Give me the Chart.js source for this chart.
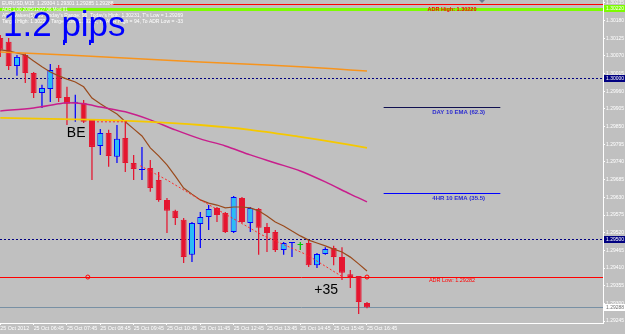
<!DOCTYPE html>
<html><head><meta charset="utf-8">
<script src="https://cdn.jsdelivr.net/npm/chart.js@4.4.1/dist/chart.umd.min.js"></script>
<style>html,body{margin:0;padding:0;background:#c0c0c0;overflow:hidden}canvas{display:block}</style>
</head><body><canvas id="c" width="625" height="334"></canvas>
<script>
// ---- data (EURUSD M15, 25 Oct 2012) ----
const opens  = [1.30126,1.30114,1.30039,1.30073,1.30017,1.29955,1.29967,1.30033,1.29942,1.29924,1.29924,1.29871,1.29790,1.29830,1.29756,1.29815,1.29737,1.29715,1.29721,1.29684,1.29622,1.29588,1.29560,1.29451,1.29547,1.29569,1.29597,1.29581,1.29522,1.29628,1.29550,1.29594,1.29538,1.29522,1.29466,1.29488,1.29482,1.29488,1.29419,1.29454,1.29472,1.29444,1.29391,1.29385,1.29301];
const highs  = [1.30135,1.30126,1.30073,1.30079,1.30020,1.29980,1.30045,1.30042,1.29974,1.29949,1.29933,1.29871,1.29843,1.29840,1.29855,1.29871,1.29762,1.29787,1.29746,1.29709,1.29628,1.29591,1.29566,1.29553,1.29584,1.29606,1.29600,1.29584,1.29634,1.29631,1.29600,1.29597,1.29550,1.29528,1.29491,1.29491,1.29491,1.29497,1.29457,1.29475,1.29479,1.29475,1.29404,1.29385,1.29304];
const lows   = [1.30067,1.30026,1.30008,1.29986,1.29939,1.29908,1.29927,1.29927,1.29855,1.29865,1.29861,1.29684,1.29762,1.29725,1.29737,1.29709,1.29684,1.29684,1.29647,1.29616,1.29519,1.29544,1.29426,1.29429,1.29472,1.29528,1.29553,1.29519,1.29519,1.29550,1.29522,1.29451,1.29460,1.29460,1.29451,1.29444,1.29466,1.29413,1.29410,1.29451,1.29419,1.29373,1.29348,1.29267,1.29285];
const closes = [1.30089,1.30039,1.30067,1.30017,1.29955,1.29970,1.30026,1.29939,1.29921,1.29924,1.29865,1.29787,1.29830,1.29759,1.29812,1.29737,1.29718,1.29715,1.29659,1.29622,1.29588,1.29566,1.29444,1.29550,1.29569,1.29594,1.29575,1.29522,1.29631,1.29553,1.29597,1.29535,1.29519,1.29466,1.29488,1.29488,1.29482,1.29419,1.29454,1.29469,1.29444,1.29395,1.29382,1.29304,1.29288];

const emaFast = [1.30089,1.30086,1.30079,1.30073,1.30054,1.30036,1.30020,1.30008,1.29998,1.29989,1.29974,1.29939,1.29921,1.29905,1.29889,1.29865,1.29843,1.29821,1.29784,1.29759,1.29731,1.29696,1.29659,1.29640,1.29622,1.29612,1.29606,1.29597,1.29600,1.29600,1.29597,1.29588,1.29572,1.29553,1.29541,1.29525,1.29510,1.29497,1.29488,1.29479,1.29469,1.29460,1.29444,1.29423,1.29401];
const orangeIdx = [0,8,16,24,32,40,44];
const orangeVal = [1.30082,1.30073,1.30062,1.30051,1.30042,1.30030,1.30023];
const goldIdx = [0,6,12,18,24,30,36,40,44];
const goldVal = [1.29877,1.29874,1.29871,1.29865,1.29855,1.29840,1.29818,1.29802,1.29784];
const magentaIdx = [0,4,7,8,10,12,15,18,21,24,27,30,33,36,39,42,44];
const magentaVal = [1.29899,1.29908,1.29921,1.29924,1.29921,1.29911,1.29896,1.29871,1.29840,1.29812,1.29790,1.29762,1.29737,1.29712,1.29678,1.29640,1.29616];
const trailIdx = [16.8,20,24,31.4,36.8,41.1];
const trailVal = [1.29728,1.29684,1.29622,1.29513,1.29451,1.29382];
const beIdx = [11.6,15.2];
const beVal = [1.29865,1.29865];

const timeTickIdx = [0,4,8,12,16,20,24,28,32,36,40,44];
const timeLabels = ["25 Oct 2012","25 Oct 06:45","25 Oct 07:45","25 Oct 08:45","25 Oct 09:45","25 Oct 10:45","25 Oct 11:45","25 Oct 12:45","25 Oct 13:45","25 Oct 14:45","25 Oct 15:45","25 Oct 16:45"];
const priceTicks = [1.29245,1.29300,1.29355,1.29410,1.29465,1.29520,1.29575,1.29630,1.29685,1.29740,1.29795,1.29850,1.29905,1.29960,1.30015,1.30070,1.30125,1.30180,1.30235];

const roundLevels = [1.30000,1.29500];
const redLevel = 1.29382;
const bidPrice = 1.29288;
const dayHigh = 1.30231;
const adrHigh = 1.30220;
const dayEma = 1.29911;
const h4Ema = 1.29643;
const adrLowText = "ADR Low: 1.29282";
const adrHighText = "ADR High: 1.30220";
const dayEmaText = "DAY 10 EMA (62.3)";
const h4EmaText = "4HR 10 EMA (35.5)";
const beMark = {idx: 9.1, price: 1.29830, text: "BE"};
const plusMark = {idx: 39.1, price: 1.29342, text: "+35"};
const headerLines = [
  "EURUSD,M15  1.29304 1.29301 1.29285 1.29288",
  "ADR 1.00 2005/12/27 06 Mod 01",
  "ADR Values(5): 95  Today's Range: 96  Today's High: 1.30231, T's Low = 1.29269",
  "Target High: 1.30220, Target Low: 1.29282, To ADR High = 94, To ADR Low = -33"
];
const pipsText = "1.2 pips";

// ---- styles ----
const RED = '#e5152f', CYAN = '#2bbcf5', BLUE = '#0000ff', GREEN = '#00cc00';
const n = opens.length;
const isDoji = i => opens[i] === closes[i];
const isBull = i => closes[i] > opens[i];
const specialDoji = 36;
const bodyFill = [], bodyBorder = [], wickCol = [];
for (let i = 0; i < n; i++) {
  let f, b;
  if (isDoji(i)) { f = b = (i === specialDoji ? GREEN : BLUE); }
  else if (isBull(i)) { f = CYAN; b = BLUE; }
  else { f = RED; b = RED; }
  bodyFill.push(f); bodyBorder.push(b); wickCol.push(b);
}
const xy = (idx, val) => idx.map((x, i) => ({x: x, y: val[i]}));
const allIdx = opens.map((_, i) => i);

const FONT = "'Liberation Sans', Arial, sans-serif";

function hline(g, xs, ys, price, i0, i1, color, w, dash) {
  const y = Math.round(ys.getPixelForValue(price)) + (w % 2 ? 0.5 : 0);
  g.save();
  g.strokeStyle = color; g.lineWidth = w; g.setLineDash(dash || []);
  g.beginPath(); g.moveTo(i0, y); g.lineTo(i1, y); g.stroke();
  g.restore();
  return y;
}
function txt(g, s, x, y, font, color, align) {
  g.save(); g.font = font; g.fillStyle = color; g.textAlign = align || 'left'; g.textBaseline = 'middle';
  g.fillText(s, x, y); g.restore();
}

const overlay = {
  id: 'mt4',
  beforeDraw(c) { const g = c.ctx; g.save(); g.fillStyle = '#c0c0c0'; g.fillRect(0, 0, c.width, c.height); g.restore(); },
  beforeDatasetsDraw(c) {
    const g = c.ctx, xs = c.scales.x, ys = c.scales.y, a = c.chartArea;
    g.save(); g.beginPath(); g.rect(a.left, a.top, a.right - a.left, a.bottom - a.top); g.clip();
    roundLevels.forEach(p => hline(g, xs, ys, p, a.left, a.right, '#000080', 1, [2, 2]));
    hline(g, xs, ys, bidPrice, a.left, a.right, '#7890a4', 1);
    hline(g, xs, ys, redLevel, a.left, a.right, '#ff0000', 1);
    hline(g, xs, ys, dayEma, xs.getPixelForValue(46), xs.getPixelForValue(60), '#101050', 1);
    hline(g, xs, ys, h4Ema, xs.getPixelForValue(46), xs.getPixelForValue(60), '#0000ff', 1);
    hline(g, xs, ys, dayHigh, xs.getPixelForValue(13.2), a.right, '#ff0000', 1);
    g.restore();
  },
  afterDraw(c) {
    const g = c.ctx, xs = c.scales.x, ys = c.scales.y, a = c.chartArea;
    g.save(); g.beginPath(); g.rect(a.left, a.top, a.right - a.left, a.bottom - a.top); g.clip();
    const yG = ys.getPixelForValue(adrHigh) + 1.5;
    g.fillStyle = '#7cfc00'; g.fillRect(a.left, Math.round(yG) - 1, a.right - a.left, 3);
    const yR = ys.getPixelForValue(redLevel);
    [10.5, 44].forEach(k => { g.beginPath(); g.arc(xs.getPixelForValue(k), yR, 2, 0, Math.PI * 2); g.strokeStyle = '#ff0000'; g.lineWidth = 1; g.stroke(); });
    g.fillStyle = '#0000ff';
    [7.6, 10.8].forEach(k => { const x = xs.getPixelForValue(k); const y1 = ys.getPixelForValue(1.30120), y2 = ys.getPixelForValue(1.30104); g.fillRect(Math.round(x) - 1, y1, 2, y2 - y1); });
    txt(g, adrHighText, xs.getPixelForValue(54.2), yG, "bold 5.5px " + FONT, '#ff0000', 'center');
    txt(g, adrLowText, xs.getPixelForValue(54.2), yR + 3.5, "5.5px " + FONT, '#ff0000', 'center');
    txt(g, dayEmaText, xs.getPixelForValue(55), ys.getPixelForValue(dayEma) + 5, "bold 6px " + FONT, '#2a2ad0', 'center');
    txt(g, h4EmaText, xs.getPixelForValue(55), ys.getPixelForValue(h4Ema) + 5, "bold 6px " + FONT, '#2a2ad0', 'center');
    txt(g, beMark.text, xs.getPixelForValue(beMark.idx), ys.getPixelForValue(beMark.price), "14px " + FONT, '#000000', 'center');
    txt(g, plusMark.text, xs.getPixelForValue(plusMark.idx), ys.getPixelForValue(plusMark.price), "14px " + FONT, '#000000', 'center');
    txt(g, headerLines[0], 2, 4, "5px " + FONT, '#ffffff');
    txt(g, headerLines[1], 2, 9.5, "4.5px " + FONT, '#ffffff');
    txt(g, headerLines[2], 2, 15.5, "5px " + FONT, '#ffffff');
    txt(g, headerLines[3], 2, 21.5, "5px " + FONT, '#ffffff');
    g.save(); g.font = "35px " + FONT; g.fillStyle = '#0000ff'; g.textBaseline = 'alphabetic'; g.fillText(pipsText, 3, 36); g.restore();
    g.fillStyle = '#6a7a90'; g.beginPath(); g.moveTo(479, 0); g.lineTo(485, 0); g.lineTo(482, 3); g.closePath(); g.fill();
    g.restore();
    const box = (p, bg, fg) => {
      const y = Math.round(ys.getPixelForValue(p));
      g.fillStyle = bg; g.fillRect(a.right + 1, y - 3, c.width - a.right - 1, 7);
      txt(g, p.toFixed(5), a.right + 3, y + 0.5, "5px " + FONT, fg);
    };
    box(adrHigh, '#7cfc00', '#ffffff');
    roundLevels.forEach(p => box(p, '#000080', '#ffffff'));
    box(bidPrice, '#ffffff', '#707070');
  }
};

new Chart(document.getElementById('c'), {
  type: 'bar',
  data: {
    datasets: [
      {type: 'line', data: xy(beIdx, beVal), borderColor: '#ff2a2a', borderWidth: 1, borderDash: [2, 2], pointRadius: 0, tension: 0, order: 1},
      {type: 'line', data: xy(trailIdx, trailVal), borderColor: '#ff2a2a', borderWidth: 1, borderDash: [2, 2], pointRadius: 0, tension: 0, order: 1},
      {type: 'line', data: xy(orangeIdx, orangeVal), borderColor: '#f7941d', borderWidth: 1.5, pointRadius: 0, tension: 0.3, order: 1},
      {type: 'line', data: xy(goldIdx, goldVal), borderColor: '#f5c800', borderWidth: 1.8, pointRadius: 0, tension: 0.3, order: 1},
      {type: 'line', data: xy(magentaIdx, magentaVal), borderColor: '#c81e8c', borderWidth: 1.5, pointRadius: 0, tension: 0.3, order: 1},
      {type: 'line', data: xy(allIdx, emaFast), borderColor: '#9a4a1c', borderWidth: 1.2, pointRadius: 0, tension: 0, order: 1},
      {type: 'bar', data: allIdx.map(i => ({x: i, y: [opens[i], closes[i]]})), backgroundColor: bodyFill, borderColor: bodyBorder,
        borderWidth: 1, borderSkipped: false, minBarLength: 1, grouped: false, categoryPercentage: 1, barPercentage: 0.72, order: 2},
      {type: 'bar', data: allIdx.map(i => ({x: i, y: [lows[i], highs[i]]})), backgroundColor: wickCol, borderWidth: 0,
        grouped: false, categoryPercentage: 1, barPercentage: 0.15, order: 3}
    ]
  },
  options: {
    responsive: false, animation: false, devicePixelRatio: 1,
    layout: {padding: 0},
    plugins: {legend: {display: false}, tooltip: {enabled: false}},
    scales: {
      x: {
        type: 'linear', min: -0.036, max: 72.32, offset: false,
        grid: {display: true, drawOnChartArea: false, drawTicks: true, tickLength: 2, color: '#ffffff', offset: false},
        border: {display: true, color: '#ffffff', width: 1},
        afterBuildTicks: s => { s.ticks = timeTickIdx.map(v => ({value: v})); },
        ticks: {autoSkip: false, maxRotation: 0, minRotation: 0, align: 'start', padding: 0,
          color: '#ffffff', font: {family: FONT, size: 5.3},
          callback: (v, i) => timeLabels[i]},
        afterFit: s => { s.height = 11; s.paddingLeft = 0; s.paddingRight = 0; }
      },
      y: {
        type: 'linear', position: 'right', min: 1.29239, max: 1.30244, stacked: false,
        grid: {display: true, drawOnChartArea: false, drawTicks: true, tickLength: 2, color: '#ffffff'},
        border: {display: true, color: '#ffffff', width: 1},
        afterBuildTicks: s => { s.ticks = priceTicks.map(v => ({value: v})); },
        ticks: {autoSkip: false, padding: 1, color: '#ffffff', font: {family: FONT, size: 5},
          callback: v => v.toFixed(5)},
        afterFit: s => { s.width = 22; s.paddingTop = 0; s.paddingBottom = 0; }
      }
    }
  },
  plugins: [overlay]
});
</script>
</body></html>
